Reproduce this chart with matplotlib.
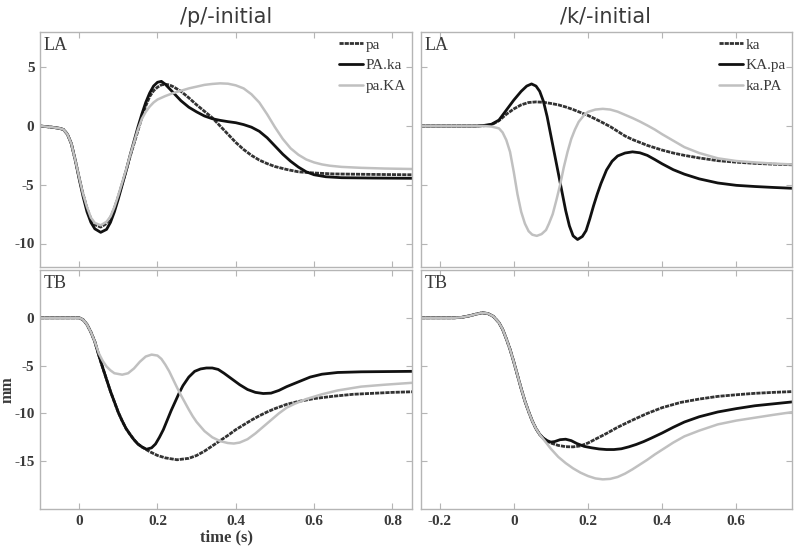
import matplotlib
matplotlib.use("Agg")
import matplotlib.pyplot as plt

# ---- /p/-initial, LA ----
p_la_pa_t = [-0.10, -0.07, -0.05, -0.04, -0.03, -0.02, -0.01, 0.0, 0.01, 0.02, 0.03, 0.04, 0.055, 0.07, 0.08, 0.09,
             0.10, 0.11, 0.12, 0.13, 0.14, 0.15, 0.16, 0.17, 0.18, 0.19, 0.20, 0.21, 0.22, 0.23, 0.24, 0.26, 0.28,
             0.30, 0.32, 0.34, 0.36, 0.38, 0.40, 0.42, 0.44, 0.46, 0.48, 0.50, 0.53, 0.56, 0.60, 0.65, 0.75, 0.85]
p_la_pa_v = [0.0, -0.1, -0.2, -0.3, -0.7, -1.5, -2.9, -4.4, -5.8, -7.0, -7.9, -8.4, -8.6, -8.3, -7.8, -7.0,
             -6.0, -4.9, -3.8, -2.6, -1.5, -0.4, 0.7, 1.7, 2.5, 3.0, 3.3, 3.5, 3.55, 3.5, 3.35, 2.95, 2.4,
             1.8, 1.25, 0.7, 0.0, -0.7, -1.4, -2.0, -2.5, -2.9, -3.2, -3.45, -3.7, -3.9, -4.0, -4.08, -4.12, -4.15]

p_la_PAka_t = [-0.10, -0.07, -0.05, -0.04, -0.03, -0.02, -0.01, 0.0, 0.01, 0.02, 0.03, 0.04, 0.055, 0.07, 0.08, 0.09,
               0.10, 0.11, 0.12, 0.13, 0.14, 0.15, 0.16, 0.17, 0.18, 0.19, 0.20, 0.21, 0.22, 0.24, 0.26, 0.28,
               0.30, 0.32, 0.34, 0.36, 0.38, 0.40, 0.42, 0.44, 0.46, 0.48, 0.50, 0.52, 0.54, 0.56, 0.58, 0.60,
               0.63, 0.67, 0.75, 0.85]
p_la_PAka_v = [0.0, -0.1, -0.2, -0.3, -0.7, -1.5, -2.9, -4.5, -6.0, -7.3, -8.2, -8.75, -9.05, -8.8, -8.2, -7.3,
               -6.2, -5.0, -3.8, -2.5, -1.3, -0.1, 1.0, 2.0, 2.8, 3.4, 3.72, 3.8, 3.55, 2.85, 2.15, 1.6,
               1.2, 0.85, 0.62, 0.48, 0.37, 0.28, 0.12, -0.1, -0.45, -1.0, -1.7, -2.4, -3.0, -3.5, -3.9, -4.15,
               -4.32, -4.4, -4.43, -4.45]

p_la_paKA_t = [-0.10, -0.07, -0.05, -0.04, -0.03, -0.02, -0.01, 0.0, 0.01, 0.02, 0.03, 0.04, 0.055, 0.07, 0.08, 0.09,
               0.10, 0.11, 0.12, 0.13, 0.14, 0.15, 0.16, 0.17, 0.18, 0.19, 0.20, 0.22, 0.24, 0.26, 0.28, 0.30,
               0.32, 0.34, 0.36, 0.38, 0.40, 0.42, 0.44, 0.46, 0.48, 0.50, 0.52, 0.54, 0.56, 0.58, 0.60, 0.62,
               0.64, 0.67, 0.72, 0.78, 0.85]
p_la_paKA_v = [0.0, -0.1, -0.2, -0.3, -0.7, -1.5, -2.9, -4.4, -5.8, -6.9, -7.8, -8.25, -8.45, -8.15, -7.7, -6.9,
               -5.9, -4.8, -3.7, -2.5, -1.4, -0.3, 0.6, 1.2, 1.65, 2.0, 2.25, 2.55, 2.8, 3.0, 3.2, 3.35,
               3.5, 3.58, 3.63, 3.6, 3.46, 3.2, 2.7, 2.0, 1.0, -0.1, -1.1, -1.9, -2.45, -2.85, -3.1, -3.27,
               -3.38, -3.48, -3.56, -3.62, -3.66]

# ---- /k/-initial, LA ----
k_la_ka_t = [-0.25, -0.10, -0.08, -0.06, -0.04, -0.02, 0.0, 0.02, 0.04, 0.06, 0.08, 0.10, 0.12, 0.14, 0.16, 0.18,
             0.20, 0.22, 0.24, 0.26, 0.28, 0.30, 0.32, 0.34, 0.36, 0.38, 0.40, 0.43, 0.46, 0.50, 0.55, 0.60,
             0.65, 0.70, 0.75]
k_la_ka_v = [0.0, 0.0, 0.02, 0.1, 0.45, 1.0, 1.45, 1.8, 2.0, 2.05, 2.02, 1.92, 1.8, 1.62, 1.4, 1.15,
             0.9, 0.6, 0.28, -0.05, -0.45, -0.85, -1.15, -1.4, -1.65, -1.85, -2.05, -2.3, -2.5, -2.72, -2.95, -3.08,
             -3.18, -3.25, -3.3]

k_la_KApa_t = [-0.25, -0.10, -0.08, -0.06, -0.04, -0.02, 0.0, 0.02, 0.035, 0.048, 0.06, 0.07, 0.08, 0.09, 0.10,
               0.11, 0.12, 0.13, 0.14, 0.15, 0.16, 0.172, 0.185, 0.195, 0.205, 0.215, 0.225, 0.235, 0.25, 0.265,
               0.28, 0.30, 0.32, 0.34, 0.36, 0.38, 0.40, 0.43, 0.46, 0.50, 0.55, 0.60, 0.65, 0.70, 0.75]
k_la_KApa_v = [0.0, 0.0, 0.05, 0.15, 0.5, 1.35, 2.2, 2.95, 3.4, 3.58, 3.4, 2.95, 2.1, 0.8, -0.8,
               -2.4, -4.0, -5.6, -7.2, -8.5, -9.35, -9.66, -9.4, -8.9, -7.9, -6.8, -5.8, -4.9, -3.75, -3.0,
               -2.55, -2.3, -2.2, -2.28, -2.5, -2.85, -3.22, -3.72, -4.1, -4.5, -4.85, -5.05, -5.15, -5.23, -5.3]

k_la_kaPA_t = [-0.25, -0.08, -0.06, -0.04, -0.03, -0.02, -0.01, 0.0, 0.01, 0.02, 0.03, 0.04, 0.05, 0.062, 0.075,
               0.087, 0.095, 0.105, 0.115, 0.125, 0.135, 0.145, 0.155, 0.165, 0.175, 0.19, 0.20, 0.22, 0.24, 0.26,
               0.28, 0.30, 0.32, 0.34, 0.36, 0.38, 0.40, 0.43, 0.46, 0.50, 0.55, 0.60, 0.65, 0.70, 0.75]
k_la_kaPA_v = [0.0, 0.0, -0.05, -0.2, -0.55, -1.2, -2.2, -3.9, -5.8, -7.3, -8.3, -8.95, -9.25, -9.35, -9.2,
               -8.85, -8.3, -7.5, -6.3, -5.0, -3.5, -2.2, -1.1, -0.3, 0.35, 0.95, 1.2, 1.4, 1.46, 1.4,
               1.22, 0.95, 0.68, 0.38, 0.05, -0.3, -0.7, -1.25, -1.8, -2.3, -2.75, -2.98, -3.1, -3.2, -3.27]

# ---- /p/-initial, TB ----
p_tb_pa_t = [-0.10, 0.0, 0.01, 0.02, 0.03, 0.04, 0.05, 0.06, 0.07, 0.08, 0.09, 0.10, 0.11, 0.12, 0.13, 0.14,
             0.15, 0.16, 0.17, 0.18, 0.20, 0.22, 0.25, 0.28, 0.30, 0.32, 0.34, 0.36, 0.38, 0.40, 0.42, 0.44,
             0.46, 0.48, 0.50, 0.53, 0.56, 0.60, 0.65, 0.70, 0.75, 0.80, 0.85]
p_tb_pa_v = [0.0, 0.0, -0.2, -0.7, -1.5, -2.5, -3.9, -5.2, -6.45, -7.7, -8.8, -9.9, -10.8, -11.6, -12.2, -12.75,
             -13.2, -13.5, -13.75, -14.0, -14.4, -14.65, -14.85, -14.7, -14.4, -13.95, -13.4, -12.85, -12.3, -11.7,
             -11.2, -10.7, -10.25, -9.85, -9.5, -9.05, -8.75, -8.45, -8.2, -8.0, -7.9, -7.8, -7.74]

p_tb_PAka_t = [-0.10, 0.0, 0.01, 0.02, 0.03, 0.04, 0.05, 0.06, 0.07, 0.08, 0.09, 0.10, 0.11, 0.12, 0.13, 0.14,
               0.15, 0.16, 0.172, 0.185, 0.195, 0.205, 0.215, 0.225, 0.235, 0.245, 0.255, 0.265, 0.28, 0.295,
               0.31, 0.325, 0.34, 0.355, 0.37, 0.39, 0.41, 0.43, 0.45, 0.47, 0.49, 0.51, 0.53, 0.56, 0.59,
               0.62, 0.66, 0.72, 0.85]
p_tb_PAka_v = [0.0, 0.0, -0.2, -0.7, -1.5, -2.5, -3.9, -5.2, -6.45, -7.7, -8.8, -9.9, -10.8, -11.6, -12.2, -12.75,
               -13.2, -13.5, -13.75, -13.6, -13.2, -12.5, -11.7, -10.7, -9.7, -8.8, -7.9, -7.1, -6.2, -5.6,
               -5.35, -5.25, -5.25, -5.4, -5.8, -6.4, -7.0, -7.5, -7.8, -7.92, -7.88, -7.6, -7.2, -6.7, -6.2,
               -5.9, -5.72, -5.65, -5.6]

p_tb_paKA_t = [-0.10, 0.0, 0.01, 0.02, 0.03, 0.04, 0.05, 0.06, 0.07, 0.08, 0.09, 0.11, 0.125, 0.14, 0.155, 0.17,
               0.185, 0.20, 0.21, 0.22, 0.23, 0.24, 0.25, 0.26, 0.27, 0.28, 0.29, 0.30, 0.32, 0.34, 0.36, 0.38,
               0.395, 0.41, 0.43, 0.45, 0.47, 0.49, 0.51, 0.53, 0.55, 0.58, 0.62, 0.66, 0.72, 0.78, 0.85]
p_tb_paKA_v = [0.0, 0.0, -0.2, -0.7, -1.5, -2.5, -3.7, -4.5, -5.1, -5.5, -5.8, -5.95, -5.8, -5.3, -4.6, -4.05,
               -3.85, -3.95, -4.3, -4.9, -5.6, -6.45, -7.3, -8.1, -8.85, -9.6, -10.3, -10.9, -11.85, -12.5, -12.9,
               -13.1, -13.15, -13.05, -12.7, -12.1, -11.4, -10.7, -10.0, -9.4, -9.0, -8.5, -8.0, -7.6, -7.2, -7.0,
               -6.8]

# ---- /k/-initial, TB ----
k_tb_ka_t = [-0.25, -0.16, -0.14, -0.12, -0.10, -0.085, -0.07, -0.055, -0.04, -0.03, -0.02, -0.01, 0.0, 0.01,
             0.02, 0.03, 0.04, 0.05, 0.06, 0.07, 0.08, 0.09, 0.10, 0.12, 0.14, 0.16, 0.18, 0.20, 0.22, 0.25,
             0.28, 0.32, 0.36, 0.40, 0.45, 0.50, 0.55, 0.60, 0.65, 0.70, 0.75]
k_tb_ka_v = [0.0, 0.0, 0.05, 0.2, 0.4, 0.52, 0.45, 0.15, -0.5, -1.2, -2.2, -3.3, -4.6, -6.0,
             -7.4, -8.7, -9.8, -10.8, -11.6, -12.2, -12.6, -12.9, -13.1, -13.35, -13.48, -13.5, -13.4, -13.1,
             -12.7, -12.1, -11.45, -10.7, -10.0, -9.4, -8.85, -8.5, -8.22, -8.05, -7.9, -7.8, -7.72]

k_tb_KApa_t = [-0.25, -0.16, -0.14, -0.12, -0.10, -0.085, -0.07, -0.055, -0.04, -0.03, -0.02, -0.01, 0.0, 0.01,
               0.02, 0.03, 0.04, 0.05, 0.06, 0.07, 0.08, 0.09, 0.10, 0.11, 0.125, 0.14, 0.155, 0.17, 0.19, 0.21,
               0.23, 0.25, 0.27, 0.29, 0.31, 0.33, 0.35, 0.37, 0.40, 0.43, 0.46, 0.50, 0.55, 0.60, 0.65, 0.70,
               0.75]
k_tb_KApa_v = [0.0, 0.0, 0.05, 0.2, 0.4, 0.52, 0.45, 0.15, -0.5, -1.2, -2.2, -3.3, -4.6, -6.0,
               -7.4, -8.7, -9.8, -10.8, -11.6, -12.2, -12.6, -12.85, -13.0, -12.95, -12.75, -12.7, -12.85, -13.15,
               -13.45, -13.6, -13.72, -13.78, -13.78, -13.7, -13.5, -13.25, -12.95, -12.6, -12.05, -11.45, -10.9,
               -10.35, -9.85, -9.5, -9.2, -9.0, -8.8]

k_tb_kaPA_t = [-0.25, -0.16, -0.14, -0.12, -0.10, -0.085, -0.07, -0.055, -0.04, -0.03, -0.02, -0.01, 0.0, 0.01,
               0.02, 0.03, 0.04, 0.05, 0.06, 0.07, 0.08, 0.09, 0.10, 0.12, 0.14, 0.16, 0.18, 0.20, 0.22, 0.24,
               0.26, 0.28, 0.30, 0.32, 0.34, 0.36, 0.38, 0.40, 0.43, 0.46, 0.50, 0.55, 0.60, 0.65, 0.70, 0.75]
k_tb_kaPA_v = [0.0, 0.0, 0.05, 0.2, 0.4, 0.52, 0.45, 0.15, -0.5, -1.2, -2.2, -3.3, -4.6, -6.0,
               -7.4, -8.7, -9.8, -10.8, -11.6, -12.2, -12.7, -13.2, -13.7, -14.55, -15.2, -15.75, -16.2, -16.55,
               -16.8, -16.9, -16.85, -16.65, -16.3, -15.85, -15.35, -14.85, -14.3, -13.8, -13.05, -12.4, -11.8,
               -11.15, -10.75, -10.45, -10.15, -9.87]

col_titles = ['/p/-initial', '/k/-initial']
p_names = ['pa', 'PA.ka', 'pa.KA']
k_names = ['ka', 'KA.pa', 'ka.PA']

dark = '#333333'
black = '#111111'
gray = '#c0c0c0'
spine_c = '#b5b5b5'
text_c = '#3a3a3a'
serif = 'Liberation Serif'

fig = plt.figure(figsize=(8, 5.46), dpi=100)

W = 800.0
H = 546.0
def box(l, t, r, b):
    return [l / W, 1 - b / H, (r - l) / W, (b - t) / H]

ax_tl = fig.add_axes(box(40, 32, 412, 267))
ax_tr = fig.add_axes(box(421, 32, 792, 267))
ax_bl = fig.add_axes(box(40, 270, 412, 509))
ax_br = fig.add_axes(box(421, 270, 792, 509))

def draw(ax, series, names):
    styles = [dict(color=dark, lw=2.0, ls=(0, (1.5, 0.35))),
              dict(color=black, lw=2.0, ls='-'),
              dict(color=gray, lw=1.8, ls='-')]
    for (t, v), nm, st in zip(series, names, styles):
        ax.plot(t, v, label=nm, solid_capstyle='round', solid_joinstyle='round', **st)

draw(ax_tl, [(p_la_pa_t, p_la_pa_v), (p_la_PAka_t, p_la_PAka_v), (p_la_paKA_t, p_la_paKA_v)], p_names)
draw(ax_tr, [(k_la_ka_t, k_la_ka_v), (k_la_KApa_t, k_la_KApa_v), (k_la_kaPA_t, k_la_kaPA_v)], k_names)
draw(ax_bl, [(p_tb_pa_t, p_tb_pa_v), (p_tb_PAka_t, p_tb_PAka_v), (p_tb_paKA_t, p_tb_paKA_v)], p_names)
draw(ax_br, [(k_tb_ka_t, k_tb_ka_v), (k_tb_KApa_t, k_tb_KApa_v), (k_tb_kaPA_t, k_tb_kaPA_v)], k_names)

for ax in [ax_tl, ax_bl]:
    ax.set_xlim(-0.1, 0.85)
    ax.set_xticks([0, 0.2, 0.4, 0.6, 0.8])
for ax in [ax_tr, ax_br]:
    ax.set_xlim(-0.25, 0.75)
    ax.set_xticks([-0.2, 0, 0.2, 0.4, 0.6])
for ax in [ax_tl, ax_tr]:
    ax.set_ylim(-12, 8)
    ax.set_yticks([-10, -5, 0, 5])
for ax in [ax_bl, ax_br]:
    ax.set_ylim(-20, 5)
    ax.set_yticks([-15, -10, -5, 0])

fmt_x = plt.FuncFormatter(lambda x, p: '0' if abs(x) < 1e-9 else ('%g' % x))
fmt_y = plt.FuncFormatter(lambda y, p: '%d' % y)
for ax in [ax_tl, ax_tr, ax_bl, ax_br]:
    ax.xaxis.set_major_formatter(fmt_x)
    ax.yaxis.set_major_formatter(fmt_y)
    for s in ax.spines.values():
        s.set_color(spine_c)
        s.set_linewidth(1.0)
    ax.tick_params(direction='in', length=4, width=0.8, color=spine_c, top=True, right=True,
                   labelsize=11, labelcolor=text_c, pad=4)

ax_tl.tick_params(labelbottom=False)
ax_tr.tick_params(labelbottom=False, labelleft=False)
ax_br.tick_params(labelleft=False)

fig.canvas.draw()
for ax in [ax_tl, ax_tr, ax_bl, ax_br]:
    for lab in ax.get_xticklabels() + ax.get_yticklabels():
        lab.set_fontfamily(serif)
        lab.set_fontweight('bold')

for ax, lab in [(ax_tl, 'LA'), (ax_tr, 'LA'), (ax_bl, 'TB'), (ax_br, 'TB')]:
    ax.text(0.01, 0.98, lab, transform=ax.transAxes, ha='left', va='top',
            fontsize=13, family=serif, color=text_c)

for ax in [ax_tl, ax_tr]:
    ax.legend(loc='upper right', frameon=False, prop={'family': serif, 'size': 11},
              handlelength=1.6, handletextpad=0.15, labelspacing=0.45,
              borderaxespad=0.1, borderpad=0.3, labelcolor=text_c)

fig.text(8 / W, 1 - 390 / H, 'mm', rotation=90, ha='center', va='center',
         family=serif, fontweight='bold', fontsize=11.5, color=text_c)
ax_bl.set_xlabel('time (s)', family=serif, fontweight='bold', fontsize=12, color=text_c, labelpad=1)

fig.text(226 / W, 1 - 17 / H, col_titles[0], ha='center', va='center', fontsize=15,
         family='DejaVu Sans', color=text_c)
fig.text(606 / W, 1 - 17 / H, col_titles[1], ha='center', va='center', fontsize=15,
         family='DejaVu Sans', color=text_c)

fig.savefig('out.png', dpi=100)
